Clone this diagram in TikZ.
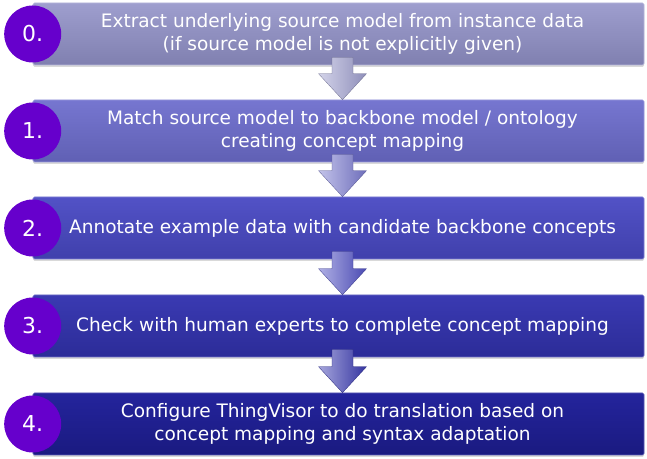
\documentclass[tikz,border=0pt]{standalone}
\usepackage{fontspec}
\setmainfont{DejaVu Sans}
\usetikzlibrary{calc,shadows}

\definecolor{numpurple}{HTML}{6600CC}
\definecolor{topA}{HTML}{9E9ECE}
\definecolor{botA}{HTML}{8080B0}
\definecolor{topB}{HTML}{7676D0}
\definecolor{botB}{HTML}{6060B4}
\definecolor{topC}{HTML}{5252C6}
\definecolor{botC}{HTML}{4040AC}
\definecolor{topD}{HTML}{3A3AB2}
\definecolor{botD}{HTML}{2C2C98}
\definecolor{topE}{HTML}{24249C}
\definecolor{botE}{HTML}{1A1A80}

\tikzstyle{stepbox}=[rectangle, rounded corners=1.5bp, minimum width=611bp, minimum height=62bp,
  inner sep=0pt, line width=0.6bp, drop shadow={shadow xshift=0bp, shadow yshift=-2bp, opacity=0.3}]
\tikzstyle{steptext}=[inner sep=0pt, align=center, text=white, font=\fontsize{18.6}{22.5}\selectfont]
\tikzstyle{numdisc}=[circle, fill=numpurple, minimum size=57bp, inner sep=0pt, text=white,
  font=\fontsize{22}{26}\selectfont]

% block arrow from one step to the next, #3 = colour
\newcommand{\flowarrow}[3]{%
  \shade[left color=#3!45!white, right color=#3!90!black, draw=#3!70!black, line width=0.3bp]
    ($(#1.south)+(-6.5,8)$) -- ($(#2.north)+(-6.5,26)$) -- ($(#2.north)+(-20,26)$)
    -- ($(#2.north)+(4,0)$) -- ($(#2.north)+(28,26)$) -- ($(#2.north)+(14.5,26)$)
    -- ($(#1.south)+(14.5,8)$) -- cycle;
}

\begin{document}
\begin{tikzpicture}[x=1bp,y=1bp]

\useasboundingbox (0,0) rectangle (647,459);

% STEP 0

\node[stepbox, top color=topA, bottom color=botA, draw=topA!75!white] (step0) at (338.5,425) {};
\node[steptext] (txt0) at ($(step0)+(4,0)$)
  {Extract underlying source model from instance data\\(if source model is not explicitly given)};
\node[numdisc] (num0) at (step0.west) {0.};

% STEP 1

\node[stepbox, top color=topB, bottom color=botB, draw=topB!75!white] (step1) at (338.5,328) {};
\node[steptext] (txt1) at ($(step1)+(4,0)$)
  {Match source model to backbone model / ontology\\creating concept mapping};
\node[numdisc] (num1) at (step1.west) {1.};

% STEP 2

\node[stepbox, top color=topC, bottom color=botC, draw=topC!75!white] (step2) at (338.5,231) {};
\node[steptext] (txt2) at ($(step2)+(4,0)$)
  {Annotate example data with candidate backbone concepts};
\node[numdisc] (num2) at (step2.west) {2.};

% STEP 3

\node[stepbox, top color=topD, bottom color=botD, draw=topD!75!white] (step3) at (338.5,133) {};
\node[steptext] (txt3) at ($(step3)+(4,0)$)
  {Check with human experts to complete concept mapping};
\node[numdisc] (num3) at (step3.west) {3.};

% STEP 4

\node[stepbox, top color=topE, bottom color=botE, draw=topE!75!white] (step4) at (338.5,35) {};
\node[steptext] (txt4) at ($(step4)+(4,0)$)
  {Configure ThingVisor to do translation based on\\concept mapping and syntax adaptation};
\node[numdisc] (num4) at (step4.west) {4.};

% ARROWS

\flowarrow{step0}{step1}{topA}
\flowarrow{step1}{step2}{topB!90!topA}
\flowarrow{step2}{step3}{topC}
\flowarrow{step3}{step4}{topD}

\end{tikzpicture}
\end{document}
